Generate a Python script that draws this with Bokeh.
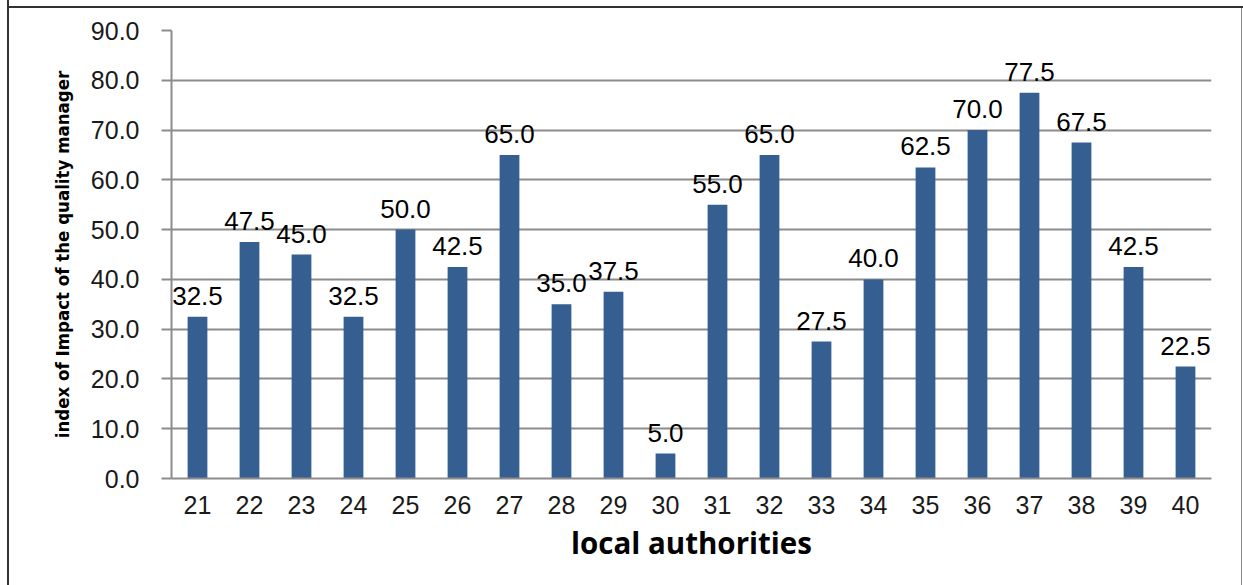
from bokeh.plotting import figure
from bokeh.models import ColumnDataSource, FixedTicker, NumeralTickFormatter
from bokeh.core.properties import value
from bokeh.embed import file_html
from bokeh.resources import INLINE

# Local authorities and their index of impact of the quality manager
authorities = [str(n) for n in range(21, 41)]
impact_index = [32.5, 47.5, 45.0, 32.5, 50.0, 42.5, 65.0, 35.0, 37.5, 5.0,
                55.0, 65.0, 27.5, 40.0, 62.5, 70.0, 77.5, 67.5, 42.5, 22.5]
y_ticks = [0, 10, 20, 30, 40, 50, 60, 70, 80, 90]

source = ColumnDataSource(data=dict(
    authority=authorities,
    impact=impact_index,
    label=[f"{v:.1f}" for v in impact_index],
))

BAR_COLOR = "#355e91"
GRID_COLOR = "#8c8c8c"
TEXT_COLOR = "#1a1a1a"

p = figure(
    x_range=authorities, y_range=(0, 90),
    width=1243, height=585,
    min_border_left=171, min_border_right=32,
    min_border_top=30, min_border_bottom=107,
    output_backend="svg", toolbar_location=None,
    background_fill_color=None, border_fill_color=None,
    outline_line_color=None,
)
p.styles = {
    "background-color": "white",
    "box-shadow": "inset 7px 0 0 white, inset 9px 0 0 #333333, "
                  "inset 0 6px 0 white, inset 0 8px 0 #333333, "
                  "inset -1px 0 0 white, inset -2px 0 0 #8a8a8a",
}

p.vbar(x="authority", top="impact", width=0.38, source=source,
       fill_color=BAR_COLOR, line_color=None)

p.text(x="authority", y="impact", text="label", source=source,
       text_align="center", text_baseline="alphabetic", y_offset=-21,
       text_font=value("Liberation Sans"), text_font_size="26px",
       text_color="black")

# y axis
p.yaxis.ticker = FixedTicker(ticks=y_ticks)
p.yaxis.formatter = NumeralTickFormatter(format="0.0")
p.yaxis.axis_line_color = GRID_COLOR
p.yaxis.axis_line_width = 2
p.yaxis.major_tick_line_color = GRID_COLOR
p.yaxis.major_tick_line_width = 2
p.yaxis.major_tick_out = 10
p.yaxis.major_tick_in = 0
p.yaxis.minor_tick_line_color = None
p.yaxis.major_label_text_font = "Liberation Sans"
p.yaxis.major_label_text_font_size = "25px"
p.yaxis.major_label_text_color = TEXT_COLOR
p.yaxis.major_label_standoff = 22
p.yaxis.axis_label = "index of Impact of the quality manager"
p.yaxis.axis_label_text_font = "'DejaVu Sans Condensed', 'Liberation Sans'"
p.yaxis.axis_label_text_font_style = "bold"
p.yaxis.axis_label_text_font_size = "18.5px"
p.yaxis.axis_label_text_color = "black"
p.yaxis.axis_label_standoff = 15

# x axis
p.xaxis.axis_line_color = GRID_COLOR
p.xaxis.axis_line_width = 2
p.xaxis.major_tick_line_color = None
p.xaxis.minor_tick_line_color = None
p.xaxis.major_label_text_font = "Liberation Sans"
p.xaxis.major_label_text_font_size = "25px"
p.xaxis.major_label_text_color = TEXT_COLOR
p.xaxis.major_label_standoff = 11
p.xaxis.axis_label = "local authorities"
p.xaxis.axis_label_text_font = "Open Sans"
p.xaxis.axis_label_text_font_style = "bold"
p.xaxis.axis_label_text_font_size = "29.5px"
p.xaxis.axis_label_text_color = "black"
p.xaxis.axis_label_standoff = 5

p.x_range.range_padding = 0
p.xgrid.grid_line_color = None
p.ygrid.ticker = FixedTicker(ticks=y_ticks)
p.ygrid.grid_line_color = GRID_COLOR
p.ygrid.grid_line_width = 2

open("out.html", "w").write(file_html(p, INLINE))
